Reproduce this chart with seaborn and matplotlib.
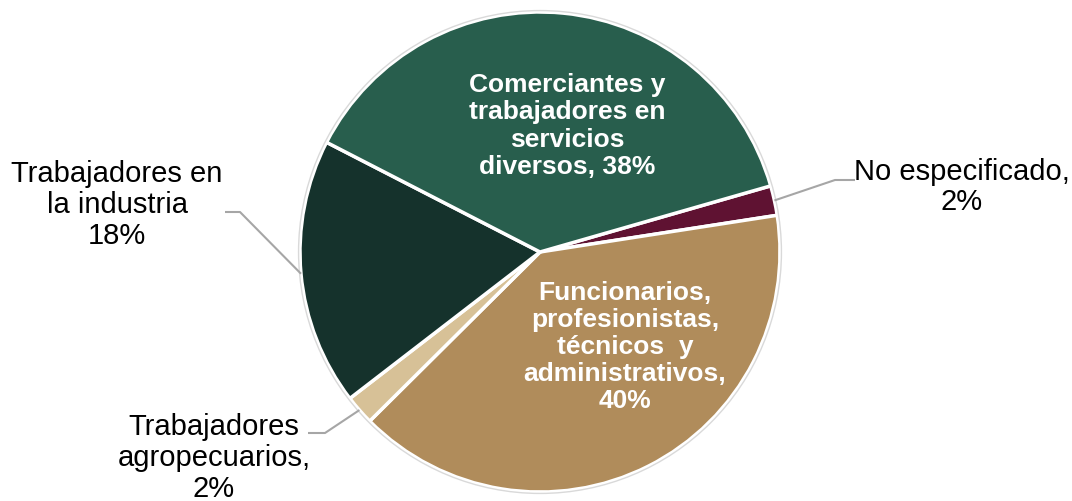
import numpy as np
import matplotlib
matplotlib.use("Agg")
import matplotlib.pyplot as plt
import seaborn as sns

# Data (clockwise from the upper right)
categorias = [
    "No especificado",
    "Funcionarios, profesionistas, técnicos y administrativos",
    "Trabajadores agropecuarios",
    "Trabajadores en la industria",
    "Comerciantes y trabajadores en servicios diversos",
]
porcentajes = [2, 40, 2, 18, 38]
etiquetas = [
    "No especificado,\n2%",
    "Funcionarios,\nprofesionistas,\ntécnicos  y\nadministrativos,\n40%",
    "Trabajadores\nagropecuarios,\n2%",
    "Trabajadores en\nla industria\n18%",
    "Comerciantes y\ntrabajadores en\nservicios\ndiversos, 38%",
]
colores = ["#5f1232", "#b08c5b", "#d7c197", "#15322c", "#285e4d"]

sns.set_theme(style="white")
plt.rcParams["font.family"] = ["Liberation Sans", "DejaVu Sans"]

W, H = 1072, 501
cx, cy, R = 540, 252, 240  # pie centre/radius in pixels


def px(x, y):
    """pixel coords -> data coords (pie radius = 1)"""
    return (x - cx) / R, (cy - y) / R


fig = plt.figure(figsize=(W / 100, H / 100), dpi=100)
ax = fig.add_axes([0, 0, 1, 1])

wedges, _ = ax.pie(
    porcentajes,
    colors=colores,
    startangle=16,
    counterclock=False,
    radius=1,
    wedgeprops=dict(edgecolor="white", linewidth=2.5),
)
# faint outline around the pie
ax.add_patch(plt.Circle((0, 0), 1.006, fill=False, ec="#d9d9d9", lw=1.0))

ax.set_xlim(-cx / R, (W - cx) / R)
ax.set_ylim(-(H - cy) / R, cy / R)
ax.set_aspect("auto")
ax.axis("off")

# inside labels (white, bold)
interior = {
    4: (567, 126),
    1: (625, 347),
}
for i, (x, y) in interior.items():
    ax.text(*px(x, y), etiquetas[i], ha="center", va="center", color="white",
            fontsize=19, fontweight="bold", linespacing=1.17)

# outside labels with leader lines
exterior = {
    0: dict(txt=(962, 187), codo=(835, 180), fin=(855, 180)),
    3: dict(txt=(117, 205), codo=(240, 212), fin=(225, 212)),
    2: dict(txt=(214, 458), codo=(325, 433), fin=(308, 433)),
}
for i, d in exterior.items():
    w = wedges[i]
    ang = np.deg2rad((w.theta1 + w.theta2) / 2)
    ex, ey = np.cos(ang), np.sin(ang)
    bx, by = px(*d["codo"])
    fx, fy = px(*d["fin"])
    ax.plot([ex, bx, fx], [ey, by, fy], color="#a6a6a6", lw=1.5,
            solid_capstyle="butt")
    ax.text(*px(*d["txt"]), etiquetas[i], ha="center", va="center",
            color="black", fontsize=21, linespacing=1.12)

fig.savefig("out.png", dpi=100)
